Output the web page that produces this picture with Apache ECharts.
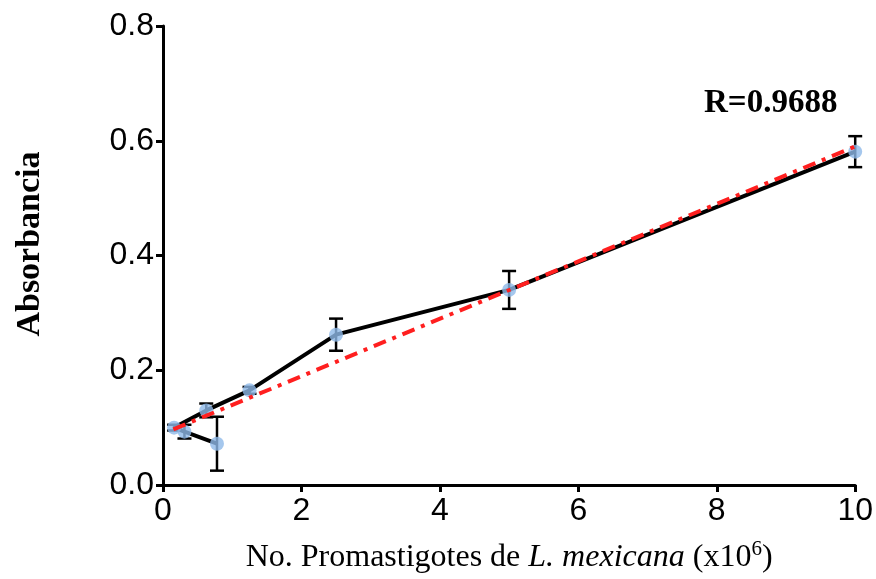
<!DOCTYPE html>
<html>
<head>
    <meta charset="utf-8">
    <title>Absorbancia vs promastigotes</title>
    <script src="https://cdn.jsdelivr.net/npm/echarts@6/dist/echarts.min.js"></script>
</head>
<body style="margin:0;background:#fff;">
<div id="main" style="width:876px;height:579px;"></div>
<script type="text/javascript">
    // concentraciones (x10^6) en el orden en que se une la linea
    var conc = [10, 5, 2.5, 1.25, 0.625, 0.16, 0.31, 0.78];
    var absorb = [0.581, 0.340, 0.262, 0.165, 0.130, 0.100, 0.093, 0.072];
    var sd = [0.027, 0.033, 0.028, 0.006, 0.012, 0.005, 0.012, 0.047];
    // recta de regresion (extremos)
    var fitX = [0.15, 10];
    var fitY = [0.097, 0.590];
    var xTicks = [0, 2, 4, 6, 8, 10];
    var rLabel = 'R=0.9688';

    var pts = conc.map(function (c, i) { return [c, absorb[i]]; });
    var errData = conc.map(function (c, i) { return [c, absorb[i] - sd[i], absorb[i] + sd[i]]; });
    var fitData = fitX.map(function (x, i) { return [x, fitY[i]]; });

    var myChart = echarts.init(document.getElementById('main'));

    var option = {
        backgroundColor: '#fff',
        animation: false,
        grid: { left: 163, right: 19, top: 26, bottom: 92 },
        title: {
            text: rLabel,
            left: 699, top: 82,
            textStyle: { fontFamily: 'Liberation Serif', fontWeight: 'bold', fontSize: 33, color: '#000' }
        },
        graphic: [{
            type: 'text',
            x: 30, y: 244,
            rotation: Math.PI / 2,
            style: {
                text: 'Absorbancia',
                font: 'bold 34px "Liberation Serif"',
                fill: '#000',
                align: 'center',
                verticalAlign: 'middle'
            }
        }],
        xAxis: {
            type: 'value',
            min: 0, max: 10, interval: 2,
            name: '{n|No. Promastigotes de }{i|L. mexicana}{n| (x10}{s|6}{n|)}',
            nameLocation: 'middle',
            nameGap: 54,
            nameTextStyle: {
                rich: {
                    n: { fontFamily: 'Liberation Serif', fontSize: 32, color: '#000', lineHeight: 38 },
                    i: { fontFamily: 'Liberation Serif', fontStyle: 'italic', fontSize: 32, color: '#000', lineHeight: 38 },
                    s: { fontFamily: 'Liberation Serif', fontSize: 21, color: '#000', verticalAlign: 'top', lineHeight: 38 }
                }
            },
            axisLine: { show: true, onZero: false, lineStyle: { color: '#000', width: 3 } },
            axisTick: { show: true, length: 7, lineStyle: { color: '#000', width: 3 } },
            axisLabel: {
                margin: 10, fontFamily: 'Liberation Sans', fontSize: 32, color: '#000',
                formatter: function (v) { return xTicks.indexOf(v) >= 0 ? String(v) : ''; }
            },
            splitLine: { show: false }
        },
        yAxis: {
            type: 'value',
            min: 0, max: 0.8, interval: 0.2,
            axisLine: { show: true, onZero: false, lineStyle: { color: '#000', width: 3 } },
            axisTick: { show: true, length: 7, lineStyle: { color: '#000', width: 3 } },
            axisLabel: {
                margin: 9, fontFamily: 'Liberation Sans', fontSize: 32, color: '#000',
                formatter: function (v) { return v.toFixed(1); }
            },
            splitLine: { show: false }
        },
        series: [
            {
                type: 'line',
                data: pts,
                showSymbol: false,
                lineStyle: { color: '#000', width: 4 },
                z: 2
            },
            {
                type: 'custom',
                data: errData,
                z: 3,
                renderItem: function (params, api) {
                    var x = api.value(0);
                    var lo = api.coord([x, api.value(1)]);
                    var hi = api.coord([x, api.value(2)]);
                    var w = 7;
                    var st = { stroke: '#000', lineWidth: 2.5 };
                    return {
                        type: 'group',
                        children: [
                            { type: 'line', shape: { x1: lo[0], y1: lo[1], x2: hi[0], y2: hi[1] }, style: st },
                            { type: 'line', shape: { x1: lo[0] - w, y1: lo[1], x2: lo[0] + w, y2: lo[1] }, style: st },
                            { type: 'line', shape: { x1: hi[0] - w, y1: hi[1], x2: hi[0] + w, y2: hi[1] }, style: st }
                        ]
                    };
                }
            },
            {
                type: 'scatter',
                data: pts,
                symbol: 'circle',
                symbolSize: 14,
                itemStyle: { color: '#8fb9e8' },
                z: 4
            },
            {
                type: 'line',
                data: fitData,
                showSymbol: false,
                lineStyle: { color: '#ff1f1f', width: 4, type: [13, 7, 4, 7] },
                z: 5
            }
        ]
    };

    myChart.setOption(option);
</script>
</body>
</html>
